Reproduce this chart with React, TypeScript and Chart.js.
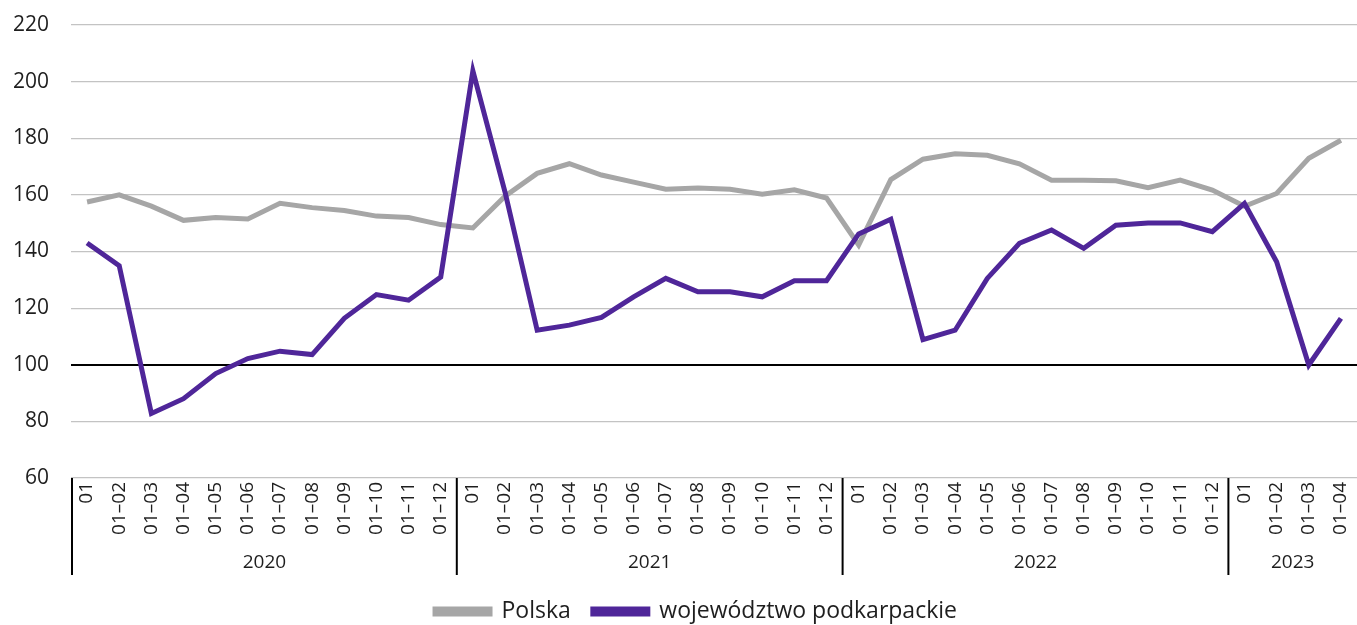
import React, { useEffect, useRef } from "react";
import { Chart, registerables } from "chart.js";

Chart.register(...registerables);

const years = ["2020", "2021", "2022", "2023"];
const monthsPerYear = [12, 12, 12, 4];
const periodLabels = ["01", "01–02", "01–03", "01–04", "01–05", "01–06", "01–07", "01–08", "01–09", "01–10", "01–11", "01–12"];

const polska = [
  157.5, 160, 156, 151, 152, 151.5, 157, 155.5, 154.5, 152.5, 152, 149.5,
  148.3, 159.5, 167.6, 171, 167, 164.5, 162, 162.4, 162, 160.2, 161.8, 158.9,
  142.3, 165.4, 172.6, 174.5, 174, 171, 165.2, 165.2, 165, 162.5, 165.2, 161.7,
  156, 160.5, 172.9, 179.3,
];

const podkarpackie = [
  143, 135, 82.8, 88, 96.9, 102.2, 104.8, 103.6, 116.4, 124.8, 122.8, 131,
  203.8, 161, 112.2, 114, 116.7, 124, 130.5, 125.8, 125.8, 124, 129.7, 129.7,
  146.2, 151.4, 108.9, 112.2, 130.5, 142.9, 147.6, 141.1, 149.3, 150.1, 150.1, 147,
  157, 136.4, 99.9, 116.4,
];

const FONT = "'Open Sans', 'Noto Sans', sans-serif";
const TEXT = "#1e1e1e";
const GRAY = "#a6a6a6";
const PURPLE = "#4f2699";
const RIGHT_OVERHANG = -7;

const categories: string[] = [];
years.forEach((_, i) => {
  for (let m = 0; m < monthsPerYear[i]; m++) categories.push(periodLabels[m]);
});

const yearGroupsPlugin = {
  id: "yearGroups",
  afterLayout(chart: any) {
    const lg = chart.legend;
    if (lg) {
      lg.left += 14;
      lg.right += 14;
    }
  },
  afterDraw(chart: any) {
    const x = chart.scales.x;
    const ctx = chart.ctx as CanvasRenderingContext2D;
    const half = (x.getPixelForValue(1) - x.getPixelForValue(0)) / 2;
    const top = chart.chartArea.bottom;
    const bottom = top + 97;
    ctx.save();
    ctx.strokeStyle = "#000";
    ctx.lineWidth = 2;
    ctx.fillStyle = TEXT;
    ctx.font = `19px ${FONT}`;
    ctx.textAlign = "center";
    ctx.textBaseline = "middle";
    let start = 0;
    years.forEach((yr, i) => {
      const n = monthsPerYear[i];
      let left = x.getPixelForValue(start) - half;
      const right = x.getPixelForValue(start + n - 1) + half;
      if (i === 0) left += 1;
      ctx.beginPath();
      ctx.moveTo(left, top);
      ctx.lineTo(left, bottom);
      ctx.stroke();
      ctx.fillText(yr, (left + right) / 2, top + 85);
      start += n;
    });
    ctx.restore();
  },
};

export default function App() {
  const canvasRef = useRef<HTMLCanvasElement | null>(null);

  useEffect(() => {
    document.body.style.margin = "0";
    const canvas = canvasRef.current;
    if (!canvas) return;
    const chart = new Chart(canvas, {
      type: "line",
      data: {
        labels: categories,
        datasets: [
          {
            label: "Polska",
            data: polska,
            borderColor: GRAY,
            backgroundColor: GRAY,
            borderWidth: 5,
            pointRadius: 0,
            tension: 0,
            order: 2,
          },
          {
            label: "województwo podkarpackie",
            data: podkarpackie,
            borderColor: PURPLE,
            backgroundColor: PURPLE,
            borderWidth: 5,
            pointRadius: 0,
            tension: 0,
            order: 1,
          },
        ],
      },
      options: {
        animation: false,
        responsive: false,
        maintainAspectRatio: false,
        layout: { autoPadding: false, padding: { top: 25, left: 0, right: RIGHT_OVERHANG, bottom: -8 } },
        plugins: {
          tooltip: { enabled: false },
          legend: {
            position: "bottom",
            labels: {
              boxWidth: 55,
              boxHeight: 5,
              padding: 22,
              color: TEXT,
              font: { family: FONT, size: 23 },
              sort: (a: any, b: any) => a.datasetIndex - b.datasetIndex,
            },
          },
        },
        scales: {
          x: {
            type: "category",
            offset: true,
            grid: { display: false, drawTicks: false, offset: true },
            border: { display: false },
            ticks: {
              autoSkip: false,
              minRotation: 90,
              maxRotation: 90,
              padding: 4,
              color: TEXT,
              font: { family: FONT, size: 19 },
            },
            afterFit: (scale: any) => {
              const lh = scale.chart.legend ? scale.chart.legend.height : 0;
              scale.height = 633 - 478 - lh;
              scale.paddingLeft = 0;
              scale.paddingRight = RIGHT_OVERHANG;
            },
          },
          y: {
            min: 60,
            max: 220,
            border: { display: false },
            grid: {
              drawTicks: false,
              color: (c: any) => (c.tick && c.tick.value === 100 ? "#000" : "#c3c3c3"),
              lineWidth: (c: any) => (c.tick && c.tick.value === 100 ? 2 : 1.2),
            },
            ticks: {
              stepSize: 20,
              padding: 22,
              color: TEXT,
              font: { family: FONT, size: 21 },
            },
            afterFit: (scale: any) => {
              scale.width = 71;
              scale.paddingTop = 0;
              scale.paddingBottom = 0;
              scale.paddingLeft = 0;
              scale.paddingRight = RIGHT_OVERHANG;
            },
          },
        },
      },
      plugins: [yearGroupsPlugin],
    });
    return () => chart.destroy();
  }, []);

  return <canvas ref={canvasRef} width={1357} height={625} style={{ display: "block" }} />;
}
